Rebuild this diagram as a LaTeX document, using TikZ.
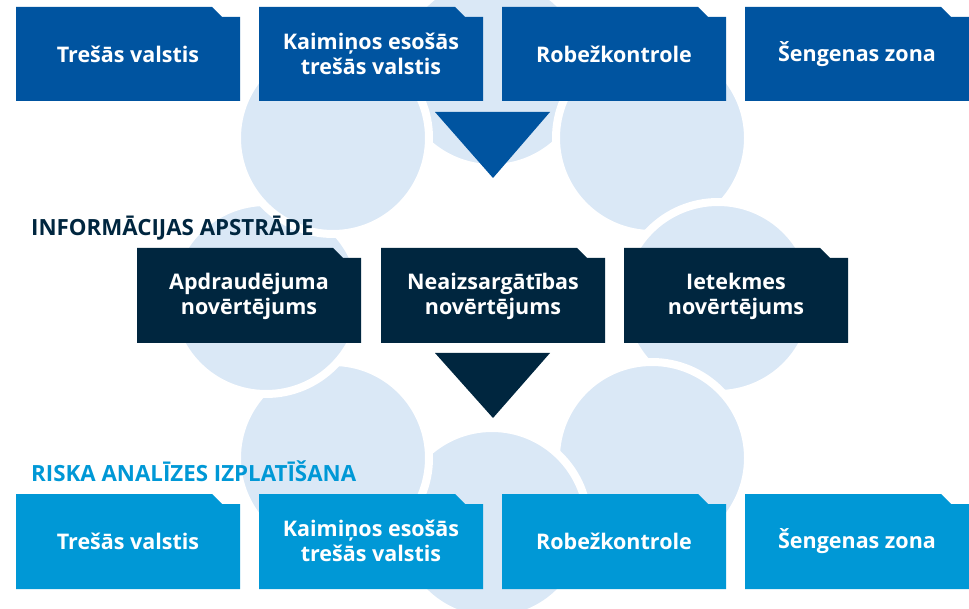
\documentclass[tikz,border=0pt]{standalone}
\usepackage{fontspec}
\setmainfont{Open Sans}
\definecolor{topblue}{RGB}{0,84,160}
\definecolor{navy}{RGB}{0,38,63}
\definecolor{skyblue}{RGB}{0,152,214}
\definecolor{paleblue}{RGB}{218,232,246}
\tikzset{
  bubble/.style={fill=paleblue, draw=white, line width=8pt},
  boxtext/.style={text=white, align=center, inner sep=0pt,
    font=\fontsize{21.5}{25}\selectfont\bfseries},
  heading/.style={anchor=base west, inner sep=0pt,
    font=\fontsize{22.3}{26}\selectfont\bfseries}
}

\begin{document}
\begin{tikzpicture}[x=1pt,y=-1pt]
\useasboundingbox (0,0) rectangle (969,609);

% background circles
\filldraw[bubble] (492,72) circle (96pt);
\filldraw[bubble] (652,138) circle (96pt);
\filldraw[bubble] (718,298) circle (96pt);
\filldraw[bubble] (652,458) circle (96pt);
\filldraw[bubble] (492,524) circle (96pt);
\filldraw[bubble] (333,458) circle (96pt);
\filldraw[bubble] (266,298) circle (96pt);
\filldraw[bubble] (333,138) circle (96pt);

% first row
\fill[topblue] (16,7) -- (212,7) -- (222,17) -- (240,17) -- (240,101) -- (16,101) -- cycle;
\node[boxtext] (t1) at (128,54) {Trešās valstis};
\fill[topblue] (259,7) -- (455,7) -- (465,17) -- (483,17) -- (483,101) -- (259,101) -- cycle;
\node[boxtext] (t2) at (371,54) {Kaimiņos esošās\\trešās valstis};
\fill[topblue] (502,7) -- (698,7) -- (708,17) -- (726,17) -- (726,101) -- (502,101) -- cycle;
\node[boxtext] (t3) at (614,54) {Robežkontrole};
\fill[topblue] (745,7) -- (941,7) -- (951,17) -- (969,17) -- (969,101) -- (745,101) -- cycle;
\node[boxtext] (t4) at (857,54) {Šengenas zona};

\fill[topblue] (435,112) -- (550,112) -- (493,178) -- cycle;

% second row
\node[heading, text=navy] (h1) at (31,236) {INFORMĀCIJAS APSTRĀDE};
\fill[navy] (137,248) -- (333,248) -- (343,258) -- (361,258) -- (361,343) -- (137,343) -- cycle;
\node[boxtext] (m1) at (249,296) {Apdraudējuma\\novērtējums};
\fill[navy] (381,248) -- (577,248) -- (587,258) -- (605,258) -- (605,343) -- (381,343) -- cycle;
\node[boxtext] (m2) at (493,296) {Neaizsargātības\\novērtējums};
\fill[navy] (624,248) -- (820,248) -- (830,258) -- (848,258) -- (848,343) -- (624,343) -- cycle;
\node[boxtext] (m3) at (736,296) {Ietekmes\\novērtējums};

\fill[navy] (435,353) -- (550,353) -- (493,418) -- cycle;

% third row
\node[heading, text=skyblue] (h2) at (31,481) {RISKA ANALĪZES IZPLATĪŠANA};
\fill[skyblue] (16,494) -- (212,494) -- (222,504) -- (240,504) -- (240,589) -- (16,589) -- cycle;
\node[boxtext] (b1) at (128,541) {Trešās valstis};
\fill[skyblue] (259,494) -- (455,494) -- (465,504) -- (483,504) -- (483,589) -- (259,589) -- cycle;
\node[boxtext] (b2) at (371,541) {Kaimiņos esošās\\trešās valstis};
\fill[skyblue] (502,494) -- (698,494) -- (708,504) -- (726,504) -- (726,589) -- (502,589) -- cycle;
\node[boxtext] (b3) at (614,541) {Robežkontrole};
\fill[skyblue] (745,494) -- (941,494) -- (951,504) -- (969,504) -- (969,589) -- (745,589) -- cycle;
\node[boxtext] (b4) at (857,541) {Šengenas zona};
\end{tikzpicture}
\end{document}
